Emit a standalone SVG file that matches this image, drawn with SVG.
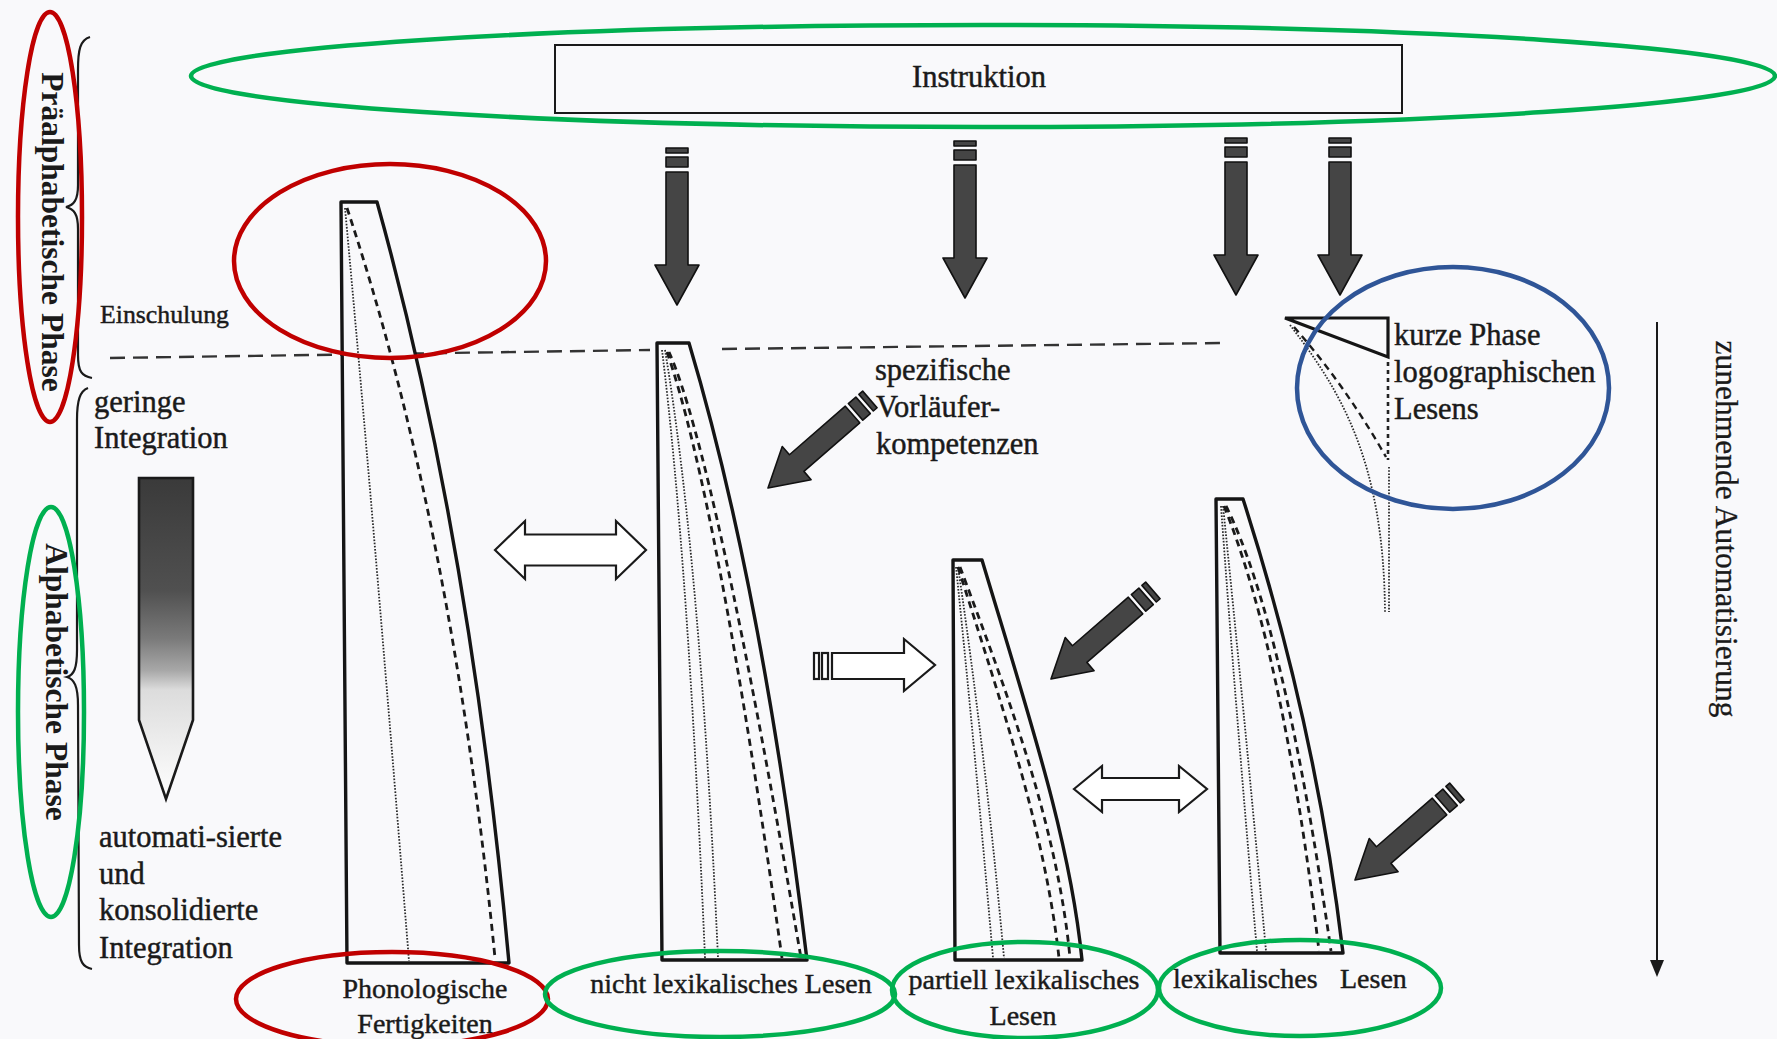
<svg xmlns="http://www.w3.org/2000/svg" xmlns:xlink="http://www.w3.org/1999/xlink" width="1777" height="1039" viewBox="0 0 1777 1039">
<style>
.t{font-family:"Liberation Serif","Times New Roman",serif;fill:#1a1a1a;font-size:30.5px;stroke:#1a1a1a;stroke-width:0.45}
.tb{font-family:"Liberation Serif","Times New Roman",serif;fill:#1a1a1a;font-size:31.5px;font-weight:bold}
.lab{font-family:"Liberation Serif","Times New Roman",serif;fill:#1a1a1a;font-size:28px;stroke:#1a1a1a;stroke-width:0.45}
.out{fill:#f9f9fb;stroke:#151515;stroke-width:3.4;stroke-linejoin:round}
.dot{fill:none;stroke:#2a2a2a;stroke-width:1.8;stroke-dasharray:1.6,1.6}
.dash{fill:none;stroke:#1a1a1a;stroke-width:2.8;stroke-dasharray:7,5}
.dark{fill:#454545;stroke:#111;stroke-width:1.6;stroke-linejoin:round}
.white{fill:#fff;stroke:#1a1a1a;stroke-width:2.2;stroke-linejoin:miter}
.red{fill:none;stroke:#c00000;stroke-width:4.5}
.green{fill:none;stroke:#00b050;stroke-width:4.5}
.blue{fill:none;stroke:#2f5597;stroke-width:4.5}
.brace{fill:none;stroke:#1a1a1a;stroke-width:2.2}
</style>
<defs>
<linearGradient id="grad" x1="0" y1="0" x2="0" y2="1">
<stop offset="0" stop-color="#3a3a3a"/>
<stop offset="0.35" stop-color="#505050"/>
<stop offset="0.5" stop-color="#7a7a7a"/>
<stop offset="0.6" stop-color="#a8a8a8"/>
<stop offset="0.66" stop-color="#dcdcdc"/>
<stop offset="1" stop-color="#ffffff"/>
</linearGradient>
<g id="darr">
<path class="dark" d="M-11,-133 H11 V-40 H22 L0,0 L-22,-40 H-11 Z"/>
<rect class="dark" x="-11" y="-148" width="22" height="10"/>
<rect class="dark" x="-11" y="-157" width="22" height="5"/>
</g>
<g id="darr2">
<path class="dark" d="M-11,-112 H11 V-38 H22 L0,0 L-22,-38 H-11 Z"/>
<rect class="dark" x="-11" y="-126" width="22" height="10"/>
<rect class="dark" x="-11" y="-135" width="22" height="5"/>
</g>
</defs>
<rect x="0" y="0" width="1777" height="1039" fill="#f9f9fb"/>

<g id="einschulung-line">
<line x1="110" y1="358" x2="650" y2="350" stroke="#333" stroke-width="2.4" stroke-dasharray="15,8"/>
<line x1="722" y1="349" x2="1225" y2="343" stroke="#333" stroke-width="2.4" stroke-dasharray="15,8"/>
<text class="t" x="100" y="323" style="font-size:25.8px">Einschulung</text>
</g>

<g id="instruktion">
<rect x="555" y="45" width="847" height="68" fill="none" stroke="#1a1a1a" stroke-width="2"/>
<text class="t" x="979" y="87" text-anchor="middle">Instruktion</text>
</g>

<g id="phase-labels">
<path class="brace" d="M90,37 C80,40 78,50 78,70 L78,185 C78,200 74,205 66,207 C74,209 78,214 78,229 L78,355 C78,372 82,376 92,378"/>
<path class="brace" d="M88,388 C80,391 77,400 77,420 L77,650 C77,668 74,675 67,677 C74,679 78,686 78,705 L79,945 C79,962 83,967 92,969"/>
<text class="tb" transform="translate(42,232) rotate(90)" text-anchor="middle">Präalphabetische Phase</text>
<text class="tb" transform="translate(46,682) rotate(90)" text-anchor="middle">Alphabetische Phase</text>
</g>

<g id="integration-scale">
<text class="t" x="94" y="412">geringe</text>
<text class="t" x="94" y="448">Integration</text>
<path d="M139,478 H193 V720 L166,799 L139,720 Z" fill="url(#grad)" stroke="#1a1a1a" stroke-width="2.6"/>
<text class="t" x="99" y="847">automati-sierte</text>
<text class="t" x="99" y="884">und</text>
<text class="t" x="99" y="920">konsolidierte</text>
<text class="t" x="99" y="958">Integration</text>
</g>

<g id="tower-phonologisch">
<path class="out" d="M341,202 L377,202 Q470,536 509,963 L347,963 Z"/>
<path class="dot" d="M345,208 Q372,500 409,961"/>
<path class="dash" d="M347,208 Q452,524 495,958"/>
<text class="lab" x="425" y="998" text-anchor="middle">Phonologische</text>
<text class="lab" x="425" y="1033" text-anchor="middle">Fertigkeiten</text>
</g>

<g id="tower-nicht-lexikalisch">
<path class="out" d="M657,343 L689,343 Q762,587 807,960 L662,960 Z"/>
<path class="dot" d="M662,350 Q688,560 705,958"/>
<path class="dot" d="M665,350 Q700,560 718,958"/>
<path class="dash" d="M667,352 Q717,496 782,958"/>
<path class="dash" d="M669,352 Q715,455 801,958"/>
<text class="lab" x="731" y="993" text-anchor="middle">nicht lexikalisches Lesen</text>
</g>

<g id="tower-partiell">
<path class="out" d="M953,560 L982,560 C1030,720 1070,840 1082,960 L955,960 Z"/>
<path class="dot" d="M956,567 Q975,750 993,958"/>
<path class="dot" d="M958,567 Q985,750 1004,958"/>
<path class="dash" d="M958,567 C1000,700 1045,830 1059,958"/>
<path class="dash" d="M960,567 C1010,700 1058,830 1070,958"/>
<text class="lab" x="1024" y="989" text-anchor="middle">partiell lexikalisches</text>
<text class="lab" x="1023" y="1025" text-anchor="middle">Lesen</text>
</g>

<g id="tower-lexikalisch">
<path class="out" d="M1216,499 L1243,499 Q1316,726 1343,953 L1220,953 Z"/>
<path class="dot" d="M1221,506 Q1235,700 1257,951"/>
<path class="dot" d="M1223,506 Q1243,700 1266,951"/>
<path class="dash" d="M1224,506 Q1284,655 1319,951"/>
<path class="dash" d="M1226,506 Q1284,622 1331,951"/>
<text class="lab" y="988"><tspan x="1173">lexikalisches</tspan><tspan x="1340">Lesen</tspan></text>
</g>

<g id="logographisch">
<path d="M1285,318 L1388,318 L1388,357 Z" fill="none" stroke="#151515" stroke-width="3.2" stroke-linejoin="miter"/>
<path class="dash" d="M1294,327 Q1345,385 1386,457" style="stroke-width:2.4"/>
<path class="dot" d="M1290,325 C1340,390 1384,460 1385,613"/>
<line x1="1388" y1="362" x2="1388" y2="460" stroke="#222" stroke-width="2.6" stroke-dasharray="4,4"/>
<line x1="1389" y1="467" x2="1389" y2="612" stroke="#2a2a2a" stroke-width="1.8" stroke-dasharray="1.6,1.6"/>
<text class="t" x="1394" y="345">kurze Phase</text>
<text class="t" x="1394" y="382">logographischen</text>
<text class="t" x="1394" y="419">Lesens</text>
</g>

<g id="vorlaeufer">
<text class="t" x="875" y="380">spezifische</text>
<text class="t" x="876" y="417">Vorläufer-</text>
<text class="t" x="876" y="454">kompetenzen</text>
</g>

<g id="automatisierung">
<line x1="1657" y1="322" x2="1657" y2="962" stroke="#1a1a1a" stroke-width="2"/>
<path d="M1650,960 L1664,960 L1657,977 Z" fill="#1a1a1a"/>
<text class="t" transform="translate(1716,529) rotate(90)" text-anchor="middle" style="font-size:31.5px;stroke-width:0.3">zunehmende Automatisierung</text>
</g>

<g id="connectors">
<use xlink:href="#darr" href="#darr" transform="translate(677,305)"/>
<use xlink:href="#darr" href="#darr" transform="translate(965,298)"/>
<use xlink:href="#darr" href="#darr" transform="translate(1236,295)"/>
<use xlink:href="#darr" href="#darr" transform="translate(1340,295)"/>
<use xlink:href="#darr2" href="#darr2" transform="translate(768,488) rotate(49)"/>
<use xlink:href="#darr2" href="#darr2" transform="translate(1051,679) rotate(49)"/>
<use xlink:href="#darr2" href="#darr2" transform="translate(1355,880) rotate(49)"/>
<path class="white" d="M495,550 L525,521 L525,534.5 L616,534.5 L616,521 L646,550 L616,579 L616,565.5 L525,565.5 L525,579 Z"/>
<path class="white" d="M832,653 L904,653 L904,639 L935,665 L904,691 L904,679 L832,679 Z"/>
<rect class="white" x="814" y="653" width="5" height="26"/>
<rect class="white" x="822" y="653" width="6" height="26"/>
<path class="white" d="M1074,789 L1102,766 L1102,778 L1179,778 L1179,766 L1207,789 L1179,812 L1179,800 L1102,800 L1102,812 Z"/>
</g>

<g id="highlights">
<ellipse class="green" cx="983" cy="76" rx="792" ry="51"/>
<ellipse class="red" cx="50" cy="217" rx="32" ry="205"/>
<ellipse class="green" cx="51" cy="712" rx="33" ry="205"/>
<ellipse class="red" cx="390" cy="261" rx="156" ry="97"/>
<ellipse class="blue" cx="1453" cy="388" rx="156" ry="121"/>
<ellipse class="red" cx="392" cy="999" rx="156" ry="47"/>
<ellipse class="green" cx="720" cy="994" rx="175" ry="43"/>
<ellipse class="green" cx="1025" cy="990" rx="133" ry="48"/>
<ellipse class="green" cx="1300" cy="988" rx="141" ry="48"/>
</g>
</svg>
